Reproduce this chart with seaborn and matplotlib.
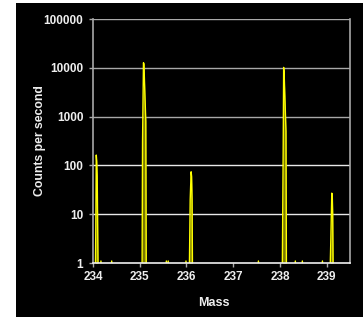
import matplotlib
matplotlib.use("Agg")
import matplotlib.pyplot as plt
import seaborn as sns
import pandas as pd
from matplotlib.patches import Rectangle
from matplotlib.ticker import FixedLocator, FixedFormatter, NullLocator

sns.set_style("dark")
plt.rcParams['font.family'] = ['Liberation Sans', 'DejaVu Sans']

mass = [234.00, 234.05, 234.06, 234.07, 234.08, 234.09, 234.11, 234.15, 234.17, 234.19,
        234.38, 234.40, 234.42, 235.03, 235.05, 235.06, 235.08, 235.09, 235.11, 235.13, 235.14,
        235.55, 235.57, 235.59, 235.61, 235.63, 235.97, 235.99, 236.01, 236.06, 236.08,
        236.10, 236.11, 236.12, 236.13, 237.52, 237.54, 237.56, 238.03, 238.05, 238.07,
        238.08, 238.09, 238.11, 238.13, 238.14, 238.31, 238.33, 238.35, 238.46, 238.48,
        238.50, 238.89, 238.91, 238.93, 239.07, 239.09, 239.11, 239.12, 239.13, 239.14, 239.50]
counts = [0.5, 0.5, 5, 163, 120, 60, 0.5, 0.5, 1.1, 0.5,
          0.5, 1.1, 0.5, 0.5, 0.5, 300, 12700, 12000, 3000, 800, 0.5,
          0.5, 1.1, 0.5, 1.1, 0.5, 0.5, 1.1, 0.5, 0.5, 20,
          74, 60, 20, 0.5, 0.5, 1.1, 0.5, 0.5, 0.5, 200,
          10200, 8000, 2000, 500, 0.5, 0.5, 1.1, 0.5, 0.5, 1.1,
          0.5, 0.5, 1.1, 0.5, 0.5, 3, 27, 25, 10, 0.5, 0.5]

xticks = [234, 235, 236, 237, 238, 239]
yticks = [1, 10, 100, 1000, 10000, 100000]
ytick_labels = ["1", "10", "100", "1000", "10000", "100000"]

df = pd.DataFrame({"Mass": mass, "Counts": counts})

fig = plt.figure(figsize=(3.63, 3.20), dpi=100, facecolor="white")
bg = Rectangle((16/363, 3/320), 1 - 16/363, (317-3)/320 + 0.001,
               transform=fig.transFigure, facecolor="black", edgecolor="none")
bg.set_zorder(-10)
fig.add_artist(bg)
ax = fig.add_axes([93/363, (320-263)/320, (350-93)/363, (263-19)/320])
ax.set_zorder(5)
ax.set_facecolor("black")

ax.fill_between(mass, counts, 0.5, color="#7a7800", linewidth=0, zorder=2)
sns.lineplot(data=df, x="Mass", y="Counts", ax=ax, color="#ffff00", linewidth=1.0,
             estimator=None, sort=False, zorder=3)

ax.set_yscale("log")
ax.set_ylim(1, 100000)
ax.set_xlim(234, 239.5)

ax.yaxis.set_major_locator(FixedLocator(yticks))
ax.yaxis.set_major_formatter(FixedFormatter(ytick_labels))
ax.yaxis.set_minor_locator(NullLocator())
ax.xaxis.set_major_locator(FixedLocator(xticks))
ax.set_xticklabels([str(t) for t in xticks])

ax.grid(False)
for y in yticks[1:]:
    c = "#a8a8a8" if y in (1000, 10000, 100000) else "#e8e8e8"
    ax.axhline(y, color=c, linewidth=1.0, zorder=1)

for side in ("left", "right"):
    ax.spines[side].set_visible(True)
    ax.spines[side].set_color("#a8a8a8")
    ax.spines[side].set_linewidth(1.2)
ax.spines["top"].set_visible(False)
ax.spines["bottom"].set_visible(True)
ax.spines["bottom"].set_color("#f0f0f0")
ax.spines["bottom"].set_linewidth(1.2)
ax.spines["bottom"].set_zorder(4)

ax.tick_params(axis="both", colors="#a8a8a8", length=3, width=1, direction="out",
               labelcolor="#eeeeee", labelsize=8.5, bottom=True, left=True)
ax.tick_params(axis="y", pad=4)
ax.tick_params(axis="x", pad=3)
for lab in ax.get_xticklabels() + ax.get_yticklabels():
    lab.set_fontweight("bold")

ax.set_xlabel("Mass", color="#eeeeee", fontsize=9, fontweight="bold")
ax.set_ylabel("Counts per second", color="#eeeeee", fontsize=8.8, fontweight="bold")
ax.xaxis.set_label_coords((214 - 93) / 257, (263 - 297) / 244)
ax.yaxis.set_label_coords((46 - 93) / 257, 0.5)

fig.savefig("out.png", dpi=100, facecolor="white")
